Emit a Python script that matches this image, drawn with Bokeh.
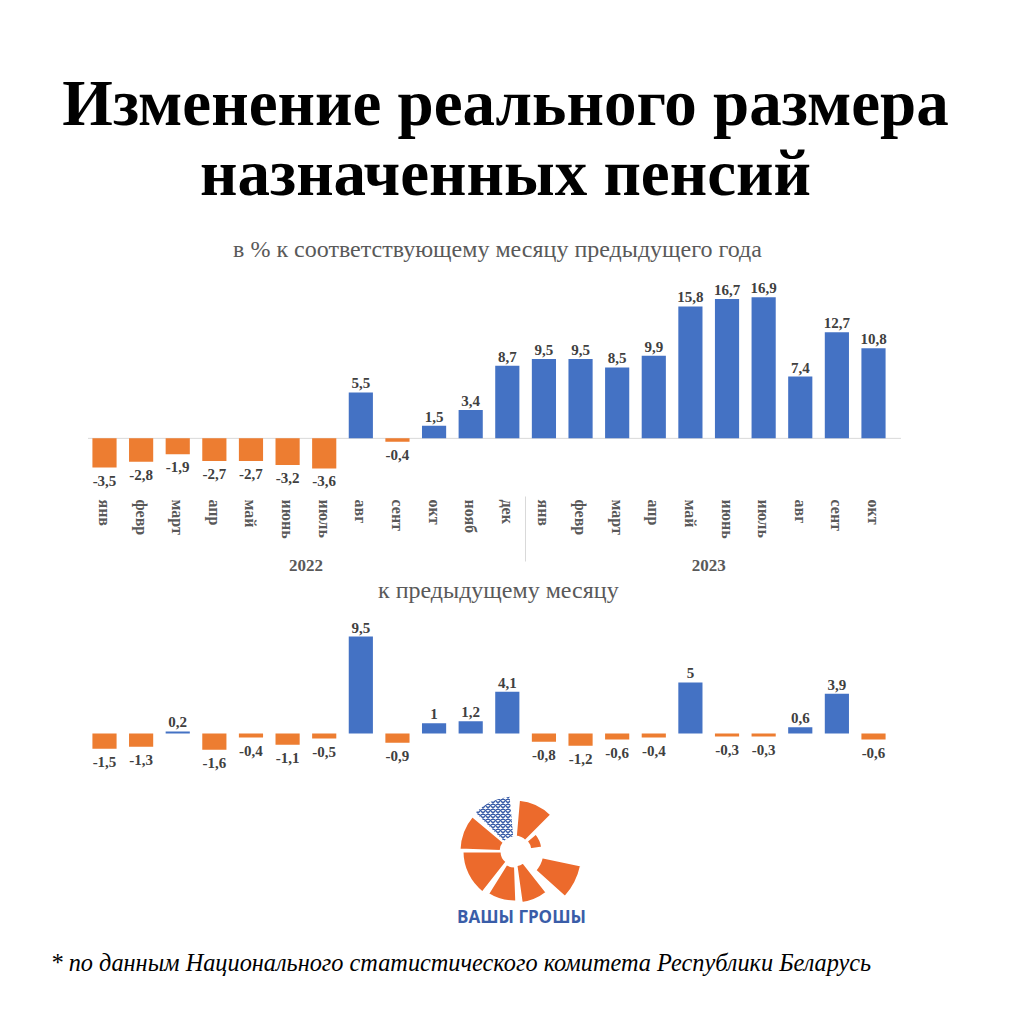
from bokeh.plotting import figure
from bokeh.layouts import column
from bokeh.models import ColumnDataSource, FactorRange, Range1d
from bokeh.embed import file_html
from bokeh.resources import INLINE
from bokeh.core.properties import value

# ---------------- data ----------------
title_lines = ["Изменение реального размера", "назначенных пенсий"]
subtitle_yoy = "в % к соответствующему месяцу предыдущего года"
subtitle_mom = "к предыдущему месяцу"
footnote = "* по данным Национального статистического комитета Республики Беларусь"
logo_text = "ВАШЫ ГРОШЫ"

years = ["2022", "2023"]
months_2022 = ["янв", "февр", "март", "апр", "май", "июнь", "июль", "авг", "сент", "окт", "нояб", "дек"]
months_2023 = ["янв", "февр", "март", "апр", "май", "июнь", "июль", "авг", "сент", "окт"]

yoy_2022 = [-3.5, -2.8, -1.9, -2.7, -2.7, -3.2, -3.6, 5.5, -0.4, 1.5, 3.4, 8.7]
yoy_2023 = [9.5, 9.5, 8.5, 9.9, 15.8, 16.7, 16.9, 7.4, 12.7, 10.8]

mom_2022 = [-1.5, -1.3, 0.2, -1.6, -0.4, -1.1, -0.5, 9.5, -0.9, 1, 1.2, 4.1]
mom_2023 = [-0.8, -1.2, -0.6, -0.4, 5, -0.3, -0.3, 0.6, 3.9, -0.6]

# ---------------- style ----------------
POS = "#4472C4"
NEG = "#ED7D31"
LOGO_ORANGE = "#EC6A2C"
LOGO_BLUE = "#3A5DA8"
SERIF = "Liberation Serif"
W = 1024
WC = 977          # chart width (frame spans the whole figure)
PAD = 2.34        # category padding on each side (category units)


def fmt(v):
    return f"{v:g}".replace(".", ",")


# nested factors: year / spacer / month (the invisible middle level only adds room above the year labels)
SPACER = "_"
factors = [(years[0], SPACER, m) for m in months_2022] + [(years[1], SPACER, m) for m in months_2023]


def make_source(vals, neg_off):
    return ColumnDataSource(dict(
        x=factors,
        v=vals,
        color=[POS if v >= 0 else NEG for v in vals],
        label=[fmt(v) for v in vals],
        baseline=["bottom" if v >= 0 else "top" for v in vals],
        yoff=[-4 if v >= 0 else neg_off for v in vals],
    ))


def make_range():
    return FactorRange(factors=factors, group_padding=0, subgroup_padding=0, factor_padding=0,
                       range_padding=PAD, range_padding_units="absolute")


def base_fig(**kw):
    p = figure(toolbar_location=None, output_backend="svg", min_border=0, **kw)
    p.outline_line_color = None
    p.grid.visible = False
    p.background_fill_color = "white"
    p.border_fill_color = "white"
    return p


# ---------------- title block ----------------
hA = 268
pA = base_fig(width=W, height=hA, x_range=Range1d(0, W), y_range=Range1d(hA, 0))
pA.axis.visible = False
pA.text(x=[505, 505], y=[102, 172], text=title_lines, text_align="center", text_baseline="alphabetic",
        text_font=value(SERIF), text_font_style="bold", text_font_size="65px", text_color="black")
pA.text(x=[497], y=[248], text=[subtitle_yoy], text_align="center", text_baseline="alphabetic",
        text_font=value(SERIF), text_font_size="24px", text_color="#595959")

# ---------------- chart 1 (year over year) ----------------
hB = 307
src1 = make_source(yoy_2022 + yoy_2023, 8)
pB = base_fig(width=WC, height=hB, x_range=make_range(), y_range=Range1d(-6.6, 19.5))
pB.min_border_top = 7
pB.min_border_bottom = 82
pB.yaxis.visible = False
# zero line across the category span
pB.segment(x0=[list(factors[0]) + [-0.45]], x1=[list(factors[-1]) + [0.75]], y0=[0], y1=[0],
           line_color="#d9d9d9", line_width=1)
pB.vbar(x="x", top="v", width=0.66, source=src1, fill_color="color", line_color=None)
pB.text(x="x", y="v", text="label", text_baseline="baseline", y_offset="yoff", text_align="center",
        text_font=value(SERIF), text_font_style="bold", text_font_size="15px", text_color="#404040",
        source=src1)
ax = pB.xaxis[0]
ax.axis_line_color = None
ax.major_tick_line_color = None
ax.major_label_orientation = "vertical"
ax.major_label_text_font = SERIF
ax.major_label_text_font_style = "bold"
ax.major_label_text_font_size = "16px"
ax.major_label_text_color = "#595959"
ax.major_label_standoff = 0
ax.subgroup_text_font_size = "13px"
ax.subgroup_text_color = "white"
ax.group_text_font = SERIF
ax.group_text_font_style = "bold"
ax.group_text_font_size = "17px"
ax.group_text_color = "#595959"
ax.separator_line_color = "#d9d9d9"
ax.separator_line_width = 1

# ---------------- chart 2 (month over month) ----------------
hC = 205
src2 = make_source(mom_2022 + mom_2023, 8)
pC = base_fig(width=WC, height=hC, x_range=make_range(), y_range=Range1d(-4.61, 15.49))
pC.axis.visible = False
pC.vbar(x="x", top="v", width=0.66, source=src2, fill_color="color", line_color=None)
pC.text(x="x", y="v", text="label", text_baseline="baseline", y_offset="yoff", text_align="center",
        text_font=value(SERIF), text_font_style="bold", text_font_size="15px", text_color="#404040",
        source=src2)
# subtitle, anchored near the top of the panel
pC.text(x=[factors[11]], y=[15.49], text=[subtitle_mom], text_align="center", text_baseline="middle",
        x_offset=-9, y_offset=14,
        text_font=value(SERIF), text_font_size="24px", text_color="#595959")

# ---------------- logo + footnote ----------------
hD = W - hA - hB - hC
pD = base_fig(width=W, height=hD, x_range=Range1d(0, W), y_range=Range1d(0, hD))
pD.axis.visible = False
logo_cx, logo_cy = 514, hD - 71
piece_start = [45, 8, -42, -82, -122, -180, 140]
piece_end = [85, 40, -12, -52, -88, -128, 178]
piece_rin = [15, 16, 28, 14, 15, 13, 14]
piece_rout = [52, 28, 68, 52, 50, 52, 55]
pD.annular_wedge(x=logo_cx, y=logo_cy, inner_radius=piece_rin, outer_radius=piece_rout,
                 inner_radius_units="screen", outer_radius_units="screen",
                 start_angle=piece_start, end_angle=piece_end, start_angle_units="deg", end_angle_units="deg",
                 fill_color=LOGO_ORANGE, line_color="white", line_width=2)
pD.annular_wedge(x=logo_cx, y=logo_cy, inner_radius=15, outer_radius=55,
                 inner_radius_units="screen", outer_radius_units="screen",
                 start_angle=95, end_angle=135, start_angle_units="deg", end_angle_units="deg",
                 fill_color="white", line_color=None, hatch_pattern="diagonal_cross",
                 hatch_color=LOGO_BLUE, hatch_scale=5, hatch_weight=1.5)
pD.text(x=[521], y=[hD - 136], text=[logo_text], text_align="center", text_baseline="middle",
        text_font=value("Open Sans"), text_font_style="bold", text_font_size="17px", text_color=LOGO_BLUE)
pD.text(x=[50], y=[hD - 182], text=[footnote], text_align="left", text_baseline="alphabetic",
        text_font=value(SERIF), text_font_style="italic", text_font_size="24.3px", text_color="black")

layout = column(pA, pB, pC, pD, spacing=0)
open("out.html", "w").write(file_html(layout, INLINE))
